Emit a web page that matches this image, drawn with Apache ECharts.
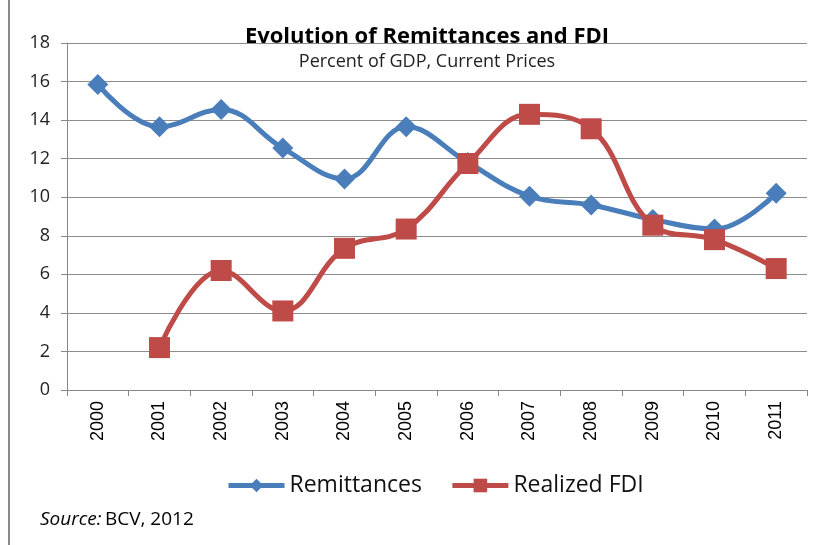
<!DOCTYPE html>
<html>
<head>
<meta charset="utf-8">
<script src="https://cdn.jsdelivr.net/npm/echarts@6/dist/echarts.min.js"></script>
<style>
html, body { margin: 0; padding: 0; background: #fff; }
#container { width: 828px; height: 545px; }
</style>
</head>
<body>
<div id="container"></div>
<script>
var years = ['2000', '2001', '2002', '2003', '2004', '2005', '2006', '2007', '2008', '2009', '2010', '2011'];
var remittances = [15.85, 13.65, 14.55, 12.55, 10.95, 13.65, 11.8, 10.05, 9.6, 8.85, 8.35, 10.2];
var realizedFdi = [null, 2.2, 6.2, 4.1, 7.35, 8.35, 11.75, 14.3, 13.55, 8.55, 7.8, 6.3];

var dom = document.getElementById('container');
var myChart = echarts.init(dom);
var option;

option = {
    backgroundColor: '#fff',
    animation: false,
    title: {
        text: 'Evolution of Remittances and FDI',
        subtext: 'Percent of GDP, Current Prices',
        left: 422,
        textAlign: 'center',
        top: 21,
        itemGap: 5,
        textStyle: {
            fontFamily: 'Open Sans',
            fontWeight: 'bold',
            fontSize: 22,
            color: '#000'
        },
        subtextStyle: {
            fontFamily: 'Open Sans',
            fontSize: 18,
            color: '#222'
        }
    },
    legend: {
        data: ['Remittances', 'Realized FDI'],
        left: 221,
        top: 469,
        itemWidth: 56,
        itemHeight: 17,
        itemGap: 28,
        lineStyle: { width: 5 },
        textStyle: {
            fontFamily: 'Open Sans',
            fontSize: 23,
            color: '#111'
        }
    },
    grid: {
        left: 67,
        right: 21,
        top: 43,
        bottom: 155
    },
    xAxis: {
        type: 'category',
        data: years,
        boundaryGap: true,
        axisLine: { lineStyle: { color: '#888', width: 1 } },
        axisTick: { show: true, length: 6, lineStyle: { color: '#888' } },
        axisLabel: {
            rotate: 90,
            margin: 11,
            fontFamily: 'Liberation Sans',
            fontSize: 18,
            color: '#000'
        }
    },
    yAxis: {
        type: 'value',
        min: 0,
        max: 18,
        interval: 2,
        axisLine: { show: true, lineStyle: { color: '#888', width: 1 } },
        axisTick: { show: true, length: 6, lineStyle: { color: '#888' } },
        axisLabel: {
            margin: 17,
            fontFamily: 'Open Sans',
            fontSize: 18,
            color: '#222'
        },
        splitLine: { lineStyle: { color: '#8c8c8c', width: 1 } }
    },
    series: [
        {
            name: 'Remittances',
            type: 'line',
            data: remittances,
            smooth: 0.4,
            symbol: 'diamond',
            symbolSize: 21,
            lineStyle: { width: 5, color: '#4a7ebb' },
            itemStyle: { color: '#4a7ebb' },
            z: 2
        },
        {
            name: 'Realized FDI',
            type: 'line',
            data: realizedFdi,
            smooth: 0.4,
            symbol: 'rect',
            symbolSize: 21,
            lineStyle: { width: 5, color: '#be4b48' },
            itemStyle: { color: '#be4b48' },
            z: 3
        }
    ],
    graphic: [
        {
            type: 'line',
            shape: { x1: 9, y1: 0, x2: 9, y2: 545 },
            style: { stroke: '#8a8a8a', lineWidth: 2 }
        },
        {
            type: 'text',
            left: 40,
            top: 510,
            style: {
                rich: {
                    i: { fontFamily: 'Open Sans', fontStyle: 'italic', fontSize: 19, fill: '#000' },
                    n: { fontFamily: 'Open Sans', fontSize: 19, fill: '#000' }
                },
                text: '{i|Source:} {n|BCV, 2012}'
            }
        }
    ]
};

if (option && typeof option === 'object') {
    myChart.setOption(option);
}
</script>
</body>
</html>
